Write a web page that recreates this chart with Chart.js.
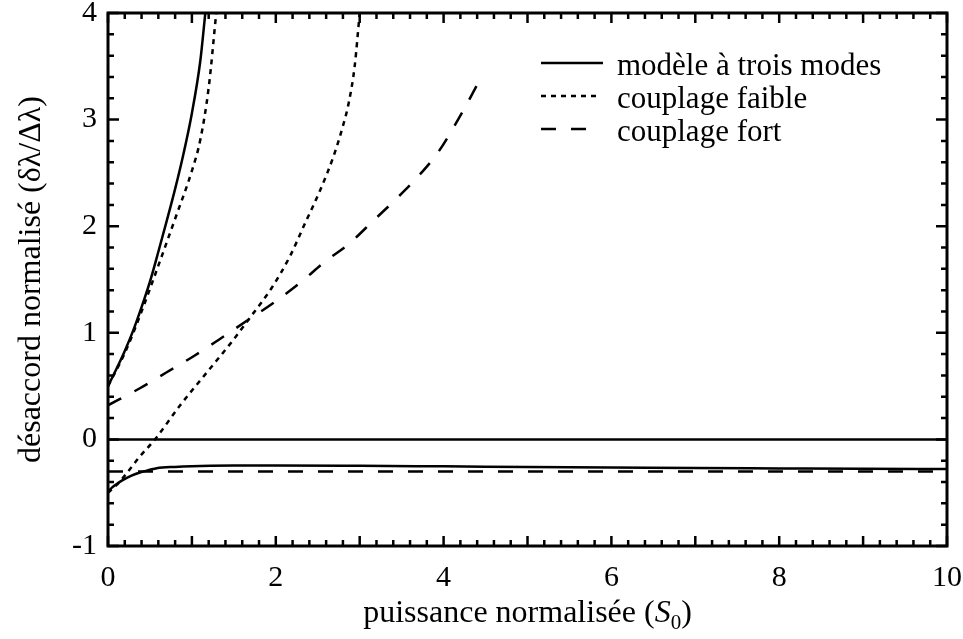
<!DOCTYPE html>
<html>
<head>
<meta charset="utf-8">
<script src="https://cdn.jsdelivr.net/npm/chart.js@4"></script>
<style>
  html, body { margin: 0; padding: 0; background: #fff; }
  #wrap { width: 963px; height: 639px; position: relative; }
</style>
</head>
<body>
<div id="wrap"><canvas id="c"></canvas></div>
<script>
// ---- data ----
const seriesLabels = ['modèle à trois modes', 'couplage faible', 'couplage fort'];

const modelUpperX = [0, 0.1, 0.2, 0.3, 0.4, 0.5, 0.6, 0.7, 0.8, 0.9, 1.0, 1.1, 1.16];
const modelUpperY = [0.5, 0.66, 0.83, 1.02, 1.24, 1.48, 1.76, 2.05, 2.35, 2.68, 3.06, 3.55, 4.0];

const modelZeroX = [0, 10];
const modelZeroY = [0, 0];

const modelLowerX = [0, 0.05, 0.1, 0.18, 0.28, 0.38, 0.5, 0.58, 0.8, 1.0, 1.5, 2, 3, 4, 5, 6, 7, 8, 9, 10];
const modelLowerY = [-0.49, -0.45, -0.42, -0.38, -0.34, -0.31, -0.285, -0.27, -0.258, -0.252, -0.246, -0.245, -0.248, -0.253, -0.258, -0.263, -0.268, -0.272, -0.276, -0.278];

const weakUpperX = [0, 0.2, 0.4, 0.6, 0.8, 1.0, 1.1, 1.2, 1.29];
const weakUpperY = [0.5, 0.81, 1.2, 1.63, 2.07, 2.52, 2.81, 3.3, 4.0];

const weakLowerX = [0, 0.1, 0.2, 0.38, 0.56, 0.86, 1.18, 1.49, 1.69, 1.95, 2.17, 2.35, 2.53, 2.69, 2.8, 2.87, 2.94, 3.0];
const weakLowerY = [-0.5, -0.43, -0.34, -0.16, 0, 0.32, 0.63, 0.93, 1.14, 1.42, 1.72, 2.03, 2.34, 2.66, 2.94, 3.16, 3.5, 4.0];

const strongUpperX = [0, 0.38, 0.7, 1.02, 1.33, 1.65, 1.97, 2.29, 2.59, 2.88, 3.16, 3.44, 3.7, 3.94, 4.23, 4.41];
const strongUpperY = [0.32, 0.48, 0.63, 0.78, 0.94, 1.11, 1.28, 1.47, 1.67, 1.84, 2.05, 2.26, 2.47, 2.7, 3.08, 3.34];

const strongLowerX = [0, 10];
const strongLowerY = [-0.3, -0.3];

const xTickValues = [0, 2, 4, 6, 8, 10];
const yTickValues = [-1, 0, 1, 2, 3, 4];

// ---- styling ----
const FONT = '"Liberation Serif", "Times New Roman", serif';
const LW = 2.5;
const styles = [
  { borderDash: [] },
  { borderDash: [5, 5] },
  { borderDash: [15, 15] }
];

function pts(xs, ys) { return xs.map((x, i) => ({ x: x, y: ys[i] })); }

function ds(label, xs, ys, styleIdx) {
  return {
    label: label,
    data: pts(xs, ys),
    borderColor: '#000',
    borderWidth: LW,
    borderDash: styles[styleIdx].borderDash,
    pointRadius: 0,
    fill: false,
    cubicInterpolationMode: 'monotone'
  };
}

const datasets = [
  ds(seriesLabels[0], modelUpperX, modelUpperY, 0),
  ds(seriesLabels[0], modelZeroX, modelZeroY, 0),
  ds(seriesLabels[0], modelLowerX, modelLowerY, 0),
  ds(seriesLabels[1], weakUpperX, weakUpperY, 1),
  ds(seriesLabels[1], weakLowerX, weakLowerY, 1),
  ds(seriesLabels[2], strongUpperX, strongUpperY, 2),
  ds(seriesLabels[2], strongLowerX, strongLowerY, 2)
];

// frame + inward ticks on all four sides, legend, x title
const framePlugin = {
  id: 'frame',
  afterDatasetsDraw(chart) {
    const ctx = chart.ctx, a = chart.chartArea;
    const xs = chart.scales.x, ys = chart.scales.y;
    ctx.save();
    ctx.strokeStyle = '#000';
    ctx.lineWidth = LW;
    ctx.setLineDash([]);
    ctx.lineCap = 'butt';
    ctx.beginPath();
    for (let i = 0; i <= 50; i++) {
      const v = xs.min + i * 0.2;
      const p = xs.getPixelForValue(v);
      const len = (i % 5 === 0) ? 10 : 6;
      ctx.moveTo(p, a.bottom); ctx.lineTo(p, a.bottom - len);
      ctx.moveTo(p, a.top); ctx.lineTo(p, a.top + len);
    }
    for (let i = 0; i <= 25; i++) {
      const v = ys.min + i * 0.2;
      const p = ys.getPixelForValue(v);
      const len = (i % 5 === 0) ? 11 : 6;
      ctx.moveTo(a.left, p); ctx.lineTo(a.left + len, p);
      ctx.moveTo(a.right, p); ctx.lineTo(a.right - len, p);
    }
    ctx.stroke();
    ctx.lineWidth = 3;
    ctx.strokeRect(a.left, a.top, a.right - a.left, a.bottom - a.top);
    ctx.restore();
  },
  afterDraw(chart) {
    const ctx = chart.ctx, a = chart.chartArea;
    ctx.save();
    ctx.fillStyle = '#000';
    ctx.strokeStyle = '#000';
    // legend
    const rows = [63, 96, 129];
    const lineX0 = 541, lineX1 = [603, 601, 590];
    ctx.font = '31px ' + FONT;
    ctx.textBaseline = 'alphabetic';
    ctx.textAlign = 'left';
    for (let k = 0; k < 3; k++) {
      ctx.lineWidth = LW;
      ctx.setLineDash(styles[k].borderDash);
      ctx.beginPath();
      ctx.moveTo(lineX0, rows[k]);
      ctx.lineTo(lineX1[k], rows[k]);
      ctx.stroke();
      ctx.fillText(seriesLabels[k], 617, rows[k] + 12);
    }
    ctx.setLineDash([]);
    // x axis title with italic S and subscript 0
    const parts = [
      { t: 'puissance normalisée (', f: '32px ' + FONT, dy: 0 },
      { t: 'S', f: 'italic 32px ' + FONT, dy: 0 },
      { t: '0', f: '21px ' + FONT, dy: 7 },
      { t: ')', f: '32px ' + FONT, dy: 0 }
    ];
    let total = 0;
    parts.forEach(p => { ctx.font = p.f; p.w = ctx.measureText(p.t).width; total += p.w; });
    let x = (a.left + a.right) / 2 - total / 2;
    const base = 622;
    parts.forEach(p => { ctx.font = p.f; ctx.fillText(p.t, x, base + p.dy); x += p.w; });
    ctx.restore();
  }
};

Chart.defaults.color = '#000';
Chart.defaults.font.family = FONT;

new Chart(document.getElementById('c'), {
  type: 'line',
  data: { datasets: datasets },
  options: {
    responsive: true,
    maintainAspectRatio: false,
    animation: false,
    devicePixelRatio: 1,
    layout: { padding: { top: 13, right: 16, left: 0, bottom: 0 } },
    plugins: { legend: { display: false }, tooltip: { enabled: false } },
    scales: {
      x: {
        type: 'linear',
        min: 0, max: 10,
        grid: { display: false, drawTicks: false },
        border: { display: false },
        afterBuildTicks(scale) { scale.ticks = xTickValues.map(v => ({ value: v })); },
        ticks: { font: { size: 30 }, padding: 14, maxRotation: 0, autoSkip: false },
        afterFit(scale) {
          scale.height = 93;
          scale.paddingLeft = 0; scale.paddingRight = 0;
        }
      },
      y: {
        type: 'linear',
        min: -1, max: 4,
        grid: { display: false, drawTicks: false },
        border: { display: false },
        afterBuildTicks(scale) { scale.ticks = yTickValues.map(v => ({ value: v })); },
        ticks: { font: { size: 30 }, padding: 11, autoSkip: false },
        title: {
          display: true,
          text: 'désaccord normalisé (δλ/Δλ)',
          font: { size: 32 },
          padding: { top: 12, bottom: 0 }
        },
        afterFit(scale) {
          scale.width = 108;
          scale.paddingTop = 0; scale.paddingBottom = 0;
        }
      }
    }
  },
  plugins: [framePlugin]
});
</script>
</body>
</html>
